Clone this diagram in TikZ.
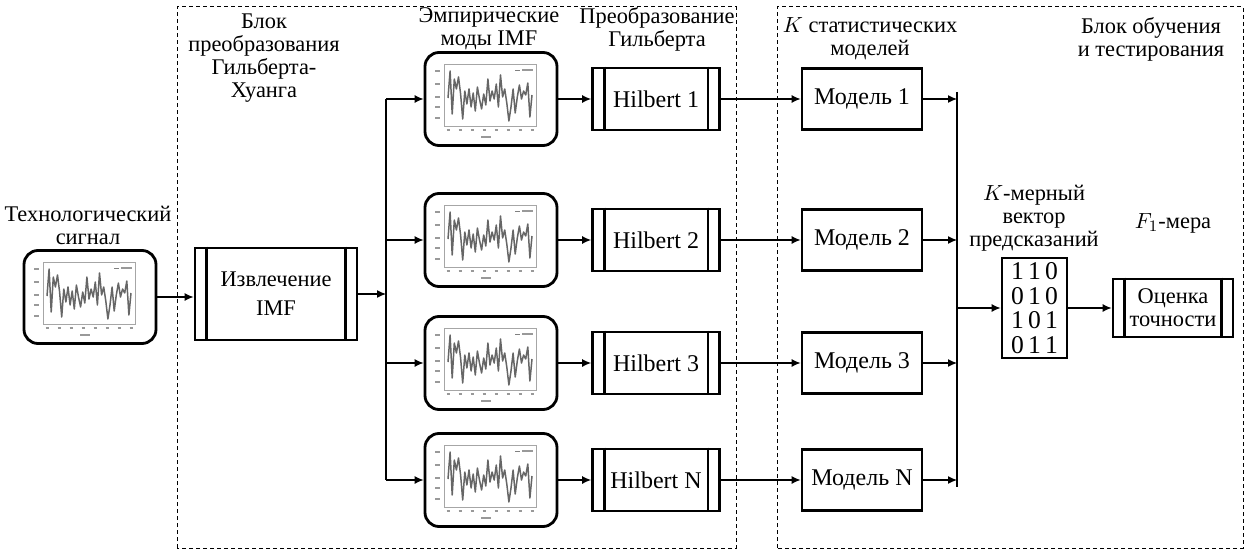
\documentclass[tikz,border=0pt]{standalone}
\usepackage{fontspec}
\setmainfont{Liberation Serif}
\usepackage{tikz}
\usetikzlibrary{arrows.meta,positioning,calc}
\tikzstyle{blk}=[draw,line width=1.4pt,inner sep=0pt,align=center,font=\fontsize{12}{13}\selectfont]
\tikzstyle{sigbox}=[draw,line width=1.4pt,rounded corners=7pt,minimum width=66pt,minimum height=46.5pt,inner sep=0pt]
\tikzstyle{hdr}=[align=center,inner sep=0pt,font=\fontsize{11.2}{11.5}\selectfont]
\tikzstyle{frame}=[dash pattern=on 2pt off 1.5pt,line width=0.5pt]
\tikzstyle{link}=[line width=0.6pt,-{Latex[length=4.5pt,width=4pt]}]
\tikzset{sigplot/.pic={
  \draw[black!35,line width=0.4pt] (-47,-27) rectangle (45,35);
  \foreach \t in {28,15,2,-8,-19} \draw[black!40,line width=0.8pt] (-56,\t) -- (-51,\t);
  \foreach \t in {-43,-31,-19,-7,5,17,29,41} \draw[black!40,line width=0.8pt] (\t-1.5,-31) -- (\t+1.5,-31);
  \draw[black!40,line width=0.8pt] (-10,-38) -- (0,-38);
  \draw[black!50,line width=0.4pt] (24,29) -- (29,29);
  \draw[black!40,line width=0.8pt] (31,29) -- (42,29);
  \draw[black!60,line width=0.75pt,line join=round] (-43,1) \foreach \v [count=\i] in {28,-15,20,10,22,5,-20,8,-5,10,-8,6,-12,12,0,-10,5,-6,20,-2,8,0,15,-8,24,2,10,-4,-22,-8,10,-14,2,14,0,8,4,16,-18,4} { -- ({-43+2.1*\i},\v) };
}}

\begin{document}
\begin{tikzpicture}[x=0.5pt,y=0.5pt]
\useasboundingbox (0,0) rectangle (1248,553);

% dashed blocks
\draw[frame] (177,5) rectangle (736,546);
\draw[frame] (777,5) rectangle (1243,546);

% input signal
\node[hdr] (tsig) at (88,328) {Технологический\\сигнал};
\node[sigbox] (sig) at (90,256) {};
\pic at (sig) {sigplot};

% Hilbert-Huang block
\node[hdr] (thht) at (264,495) {Блок\\преобразования\\Гильберта-\\Хуанга};
\node[blk,minimum width=81pt,minimum height=46pt,font=\fontsize{11.2}{14.5}\selectfont] (imf) at (276,259) {Извлечение\\IMF};
\node[hdr] (timf) at (489,524) {Эмпирические\\моды IMF};
\node[hdr] (thil) at (657,524) {Преобразование\\Гильберта};

\foreach \i/\y/\n in {1/454/1,2/313/2,3/190/3,4/73/N}{
  \node[sigbox] (p\i) at (491,\y) {};
  \pic at (p\i) {sigplot};
  \node[blk,minimum width=63.5pt,minimum height=31pt] (h\i) at (656,\y) {Hilbert \n};
  \node[blk,minimum width=60pt,minimum height=30.5pt] (m\i) at (862,\y) {Модель \n};
}

% learning and testing block
\node[hdr] (tmod) at (870,514) {$K$ статистических\\моделей};
\node[hdr] (tlrn) at (1151,514) {Блок обучения\\и тестирования};
\node[hdr] (tvec) at (1034,335) {$K$-мерный\\вектор\\предсказаний};
\node[hdr] (tf) at (1173,330) {$F_1$-мера};
\node[blk,minimum width=32.5pt,minimum height=50pt,font=\fontsize{12.8}{12.3}\selectfont] (vec) at (1034.5,245) {1\,1\,0\\0\,1\,0\\1\,0\,1\\0\,1\,1};
\node[blk,minimum width=60pt,minimum height=29pt,font=\fontsize{11.2}{11.5}\selectfont] (acc) at (1173,245) {Оценка\\точности};

% double bars
\foreach \n in {imf,h1,h2,h3,h4,acc}{
  \draw[line width=1.4pt] ([xshift=6.5pt]\n.north west) -- ([xshift=6.5pt]\n.south west);
  \draw[line width=1.4pt] ([xshift=-6.5pt]\n.north east) -- ([xshift=-6.5pt]\n.south east);
}

% connectors
\coordinate (b1) at (386,259);
\coordinate (b2) at (957,245);
\draw[link] (sig.east) -- (sig.east -| imf.west);
\draw[link] (imf) -- (b1);
\draw[line width=0.6pt] (b1 |- p1) -- (b1 |- p4);
\draw[line width=0.6pt] ([yshift=3.5pt]b2 |- m1) -- ([yshift=-3.5pt]b2 |- m4);
\foreach \i in {1,2,3,4}{
  \draw[link] (b1 |- p\i) -- (p\i);
  \draw[link] (p\i) -- (h\i);
  \draw[link] (h\i) -- (m\i);
  \draw[link] (m\i) -- (b2 |- m\i);
}
\draw[link] (b2) -- (vec);
\draw[link] (vec) -- (acc);
\end{tikzpicture}
\end{document}
